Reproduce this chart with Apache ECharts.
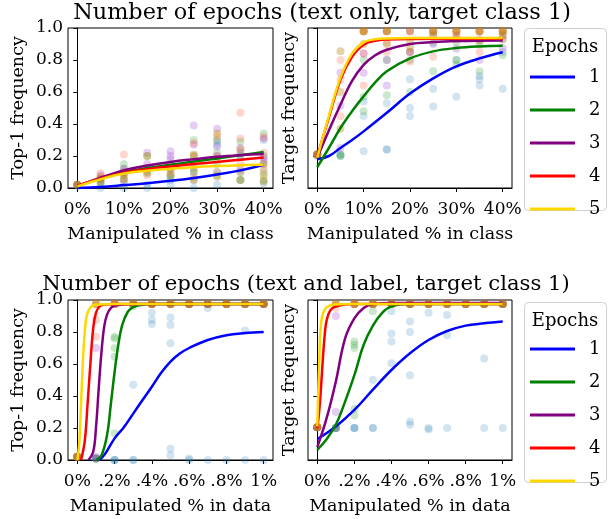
<!DOCTYPE html>
<html>
<head>
<meta charset="utf-8">
<script src="https://cdn.jsdelivr.net/npm/echarts@6/dist/echarts.min.js"></script>
<style>html,body{margin:0;padding:0;background:#fff}#c{width:608px;height:519px}</style>
</head>
<body>
<div id="c"></div>
<script>
// ---------- data ----------
const epochNames = ['1','2','3','4','5'];
const xClass = [0,5,10,15,20,25,30,35,40];
const xData = [0,0.1,0.2,0.3,0.4,0.5,0.6,0.7,0.8,0.9,1.0];
const xClassTicks = [0,10,20,30,40];
const xDataTicks = [0,0.2,0.4,0.6,0.8,1.0];
const xDataTickLabels = ['0%','.2%','.4%','.6%','.8%','1%'];

// top-left: Top-1 frequency, text only (dots per x in xClass)
const tlDots1 = [[0.02,0.01],[0.0,0.02],[0.0,0.03,0.05],[0.0,0.02],[0.02,0.05,0.07],[0.0,0.05,0.1],[0.02,0.1,0.27,0.29],[0.05,0.1,0.2],[0.03,0.15,0.3]];
const tlDots2 = [[0.02],[0.03,0.06],[0.15,0.12,0.08],[0.09,0.12,0.2],[0.12,0.15,0.08],[0.3,0.2,0.1],[0.22,0.3,0.15,0.08],[0.29,0.2,0.05],[0.34,0.2,0.05,0.1]];
const tlDots3 = [[0.02],[0.05,0.08],[0.12,0.1],[0.22,0.15],[0.23,0.2,0.18],[0.39,0.27,0.15],[0.37,0.26,0.2],[0.25,0.12,0.22],[0.31,0.19,0.17]];
const tlDots4 = [[0.02],[0.09,0.07],[0.21,0.1,0.05],[0.12,0.08],[0.14,0.1],[0.28,0.2,0.07],[0.32,0.2,0.1],[0.47,0.31,0.15],[0.32,0.22,0.12]];
const tlDots5 = [[0.02,0.02],[0.04,0.06],[0.09,0.06],[0.2,0.1],[0.12,0.08],[0.21,0.12,0.05],[0.34,0.18,0.07],[0.24,0.1,0.05],[0.15,0.08,0.04]];
const tlFit1 = [[0,0.0],[5,0.007],[10,0.018],[15,0.03],[20,0.045],[25,0.063],[30,0.085],[35,0.11],[40,0.145]];
const tlFit2 = [[0,0.01],[5,0.06],[10,0.1],[15,0.125],[20,0.145],[25,0.165],[30,0.185],[35,0.205],[40,0.225]];
const tlFit3 = [[0,0.01],[5,0.065],[10,0.11],[15,0.14],[20,0.163],[25,0.18],[30,0.195],[35,0.205],[40,0.212]];
const tlFit4 = [[0,0.015],[5,0.06],[10,0.095],[15,0.118],[20,0.135],[25,0.15],[30,0.163],[35,0.177],[40,0.19]];
const tlFit5 = [[0,0.01],[5,0.055],[10,0.09],[15,0.108],[20,0.12],[25,0.13],[30,0.137],[35,0.142],[40,0.146]];

// top-right: Target frequency, text only
const trDots1 = [[0.21,0.2],[0.2,0.21],[0.54,0.45,0.23],[0.53,0.24,0.24],[0.68,0.5,0.45],[0.62,0.51],[0.57,0.8],[0.7,0.68,0.64],[0.62,0.85]];
const trDots2 = [[0.21,0.21],[0.2,0.21],[0.8,0.57,0.48],[0.58,0.8],[0.6,0.8,0.85],[0.91,0.73],[0.8,0.77,0.91],[0.73,0.9],[0.83,0.93]];
const trDots3 = [[0.21,0.21],[0.72,0.514,0.25],[0.84,0.72],[0.8,0.64],[0.98,0.85],[0.9,0.96],[0.87,0.95],[0.8,0.93],[0.875,0.95]];
const trDots4 = [[0.21,0.21],[0.8,0.677,0.448],[0.98,0.98,0.64,0.84],[0.98,0.98,0.91,0.85],[0.98,0.85,0.79],[0.98,0.98,0.82],[0.98,0.98,0.95],[0.98,0.98,0.85],[0.98,0.98,0.93]];
const trDots5 = [[0.21,0.21],[0.854,0.6,0.37],[0.98,0.98,0.9],[0.98,0.98,0.9],[0.92,0.98,0.88],[0.98,0.98,0.95],[0.98,0.98,0.93],[0.98,0.98,0.92],[0.98,0.98,0.96]];
const trFit1 = [[0,0.18],[2.5,0.2],[5,0.25],[7.5,0.3],[10,0.354],[15,0.47],[20,0.59],[25,0.685],[30,0.76],[35,0.81],[40,0.848]];
const trFit2 = [[0,0.13],[2.5,0.25],[5,0.375],[7.5,0.48],[10,0.573],[12.5,0.66],[15,0.73],[20,0.81],[25,0.854],[30,0.875],[35,0.885],[40,0.889]];
const trFit3 = [[0,0.19],[2.5,0.36],[5,0.52],[7.5,0.67],[10,0.77],[12.5,0.83],[15,0.864],[20,0.9],[25,0.912],[30,0.918],[40,0.922]];
const trFit4 = [[0,0.2],[2.5,0.44],[5,0.677],[7.5,0.82],[10,0.896],[12.5,0.92],[15,0.928],[20,0.932],[40,0.933]];
const trFit5 = [[0,0.19],[2.5,0.45],[5,0.69],[7.5,0.84],[10,0.91],[12.5,0.93],[15,0.935],[20,0.937],[40,0.937]];

// bottom-left: Top-1 frequency, text and label (dots per x in xData)
const blDots1 = [[0.02],[0.01,0.01],[0.0,0.0,0.0],[0.47,0.0,0.0],[0.92,0.875,0.85,0.975],[0.89,0.844,0.73,0.07,0.03],[0.01,0.0,0.975],[0.95,0.0,0.975],[0.0,0.975],[0.81,0.0,0.975],[0.0,0.975]];
const blDots2 = [[0.02,0.02],[0.01,0.01],[0.77,0.76,0.70,0.646,0.167],[0.96,0.975,0.975],[0.975,0.975],[0.975,0.975],[0.975,0.975],[0.975,0.975],[0.975,0.975],[0.975,0.975],[0.975,0.975]];
const blDots3 = [[0.02,0.02],[0.70,0.02,0.01],[0.975,0.975],[0.975,0.975],[0.975,0.975],[0.975,0.975],[0.975,0.975],[0.975,0.975],[0.975,0.975],[0.975,0.975],[0.975,0.975]];
const blDots4 = [[0.02,0.02],[0.875,0.77,0.975],[0.975,0.975],[0.975,0.975],[0.975,0.975],[0.975,0.975],[0.975,0.975],[0.975,0.975],[0.975,0.975],[0.975,0.975],[0.975,0.975]];
const blDots5 = [[0.02,0.02],[0.975,0.975],[0.975,0.975],[0.975,0.975],[0.975,0.975],[0.975,0.975],[0.975,0.975],[0.975,0.975],[0.975,0.975],[0.975,0.975],[0.975,0.975]];
const blFit1 = [[0.12,0],[0.15,0.04],[0.2,0.135],[0.25,0.205],[0.3,0.29],[0.35,0.375],[0.4,0.458],[0.45,0.545],[0.5,0.615],[0.55,0.665],[0.6,0.70],[0.7,0.75],[0.8,0.78],[0.9,0.793],[1,0.80]];
const blFit2 = [[0.1,0],[0.13,0.03],[0.16,0.16],[0.18,0.35],[0.2,0.55],[0.22,0.72],[0.24,0.84],[0.27,0.925],[0.3,0.955],[0.35,0.97],[0.4,0.975],[1,0.975]];
const blFit3 = [[0.06,0],[0.085,0.05],[0.1,0.2],[0.115,0.45],[0.13,0.68],[0.145,0.84],[0.16,0.91],[0.18,0.95],[0.2,0.965],[0.3,0.975],[1,0.975]];
const blFit4 = [[0.02,0],[0.04,0.12],[0.055,0.35],[0.07,0.6],[0.085,0.82],[0.1,0.92],[0.12,0.96],[0.15,0.972],[0.2,0.975],[1,0.975]];
const blFit5 = [[0,0],[0.01,0.1],[0.02,0.35],[0.03,0.62],[0.04,0.8],[0.05,0.9],[0.07,0.955],[0.1,0.97],[0.2,0.975],[1,0.975]];

// bottom-right: Target frequency, text and label
const brDots1 = [[0.205],[0.2,0.2],[0.2,0.2,0.2],[0.5,0.2,0.2],[0.93,0.79,0.74,0.604],[0.865,0.8,0.53,0.24,0.22],[0.92,0.2,0.19],[0.906,0.78,0.2],[0.975],[0.635,0.2,0.975],[0.2,0.975]];
const brDots2 = [[0.205,0.205],[0.2,0.2],[0.74,0.72,0.70,0.32,0.28],[0.93,0.975,0.975],[0.975,0.975],[0.975,0.975],[0.975,0.975],[0.975,0.975],[0.975,0.975],[0.975,0.975],[0.975,0.975]];
const brDots3 = [[0.205,0.205],[0.9,0.3,0.2],[0.975,0.975],[0.975,0.975],[0.975,0.975],[0.975,0.975],[0.975,0.975],[0.975,0.975],[0.975,0.975],[0.975,0.975],[0.975,0.975]];
const brDots4 = [[0.205,0.205],[0.95,0.975],[0.975,0.975],[0.975,0.975],[0.975,0.975],[0.975,0.975],[0.975,0.975],[0.975,0.975],[0.975,0.975],[0.975,0.975],[0.975,0.975]];
const brDots5 = [[0.205,0.205],[0.975,0.975],[0.975,0.975],[0.975,0.975],[0.975,0.975],[0.975,0.975],[0.975,0.975],[0.975,0.975],[0.975,0.975],[0.975,0.975],[0.975,0.975]];
const brFit1 = [[0,0.131],[0.1,0.21],[0.2,0.313],[0.3,0.44],[0.4,0.5625],[0.5,0.667],[0.6,0.75],[0.7,0.806],[0.8,0.84],[0.9,0.854],[1,0.865]];
const brFit2 = [[0,0.063],[0.05,0.13],[0.1,0.22],[0.15,0.365],[0.2,0.53],[0.25,0.72],[0.3,0.84],[0.35,0.92],[0.4,0.96],[0.5,0.975],[1,0.975]];
const brFit3 = [[0,0.08],[0.05,0.26],[0.1,0.49],[0.15,0.76],[0.2,0.885],[0.25,0.95],[0.3,0.975],[0.4,0.982],[1,0.982]];
const brFit4 = [[0,0.2],[0.01,0.3],[0.02,0.45],[0.03,0.63],[0.04,0.78],[0.05,0.87],[0.07,0.935],[0.1,0.96],[0.15,0.972],[0.2,0.975],[1,0.975]];
const brFit5 = [[0,0.21],[0.01,0.6],[0.02,0.85],[0.035,0.93],[0.06,0.962],[0.1,0.972],[0.2,0.975],[1,0.975]];

// ---------- styling ----------
const FONT = 'DejaVu Serif';
const lineColors = ['#0000ff','#008000','#800080','#ff0000','#ffd700'];
const dotColors = ['rgba(31,119,180,0.25)','rgba(44,160,44,0.3)','rgba(153,51,204,0.3)','rgba(255,85,51,0.3)','rgba(184,134,11,0.45)'];

const grids = [
  {left:68, top:28, width:205, height:160},
  {left:308, top:28, width:204, height:160},
  {left:68, top:300, width:205, height:160},
  {left:308, top:300, width:204, height:160}
];

function xAxisFor(i){
  const cls = i < 2;
  return {
    type:'value', gridIndex:i,
    min: cls ? -2 : -0.05, max: cls ? 42 : 1.05,
    name: cls ? 'Manipulated % in class' : 'Manipulated % in data',
    nameLocation:'middle', nameGap:37,
    nameTextStyle:{fontFamily:FONT, fontSize:17.5, color:'#000'},
    axisLine:{show:true, onZero:false, lineStyle:{color:'#000', width:1}},
    splitLine:{show:false},
    axisTick:{show:true, length:4, lineStyle:{color:'#000'}, customValues: cls ? xClassTicks : xDataTicks},
    axisLabel:{fontFamily:FONT, fontSize:17, color:'#000', margin:13,
      customValues: cls ? xClassTicks : xDataTicks,
      formatter: v => cls ? (Math.round(v) + '%') : xDataTickLabels[xDataTicks.findIndex(t => Math.abs(t - v) < 1e-6)]}
  };
}
function yAxisFor(i){
  const left = (i % 2) === 0;
  return {
    type:'value', gridIndex:i, min:0, max:1, interval:0.2,
    name: left ? 'Top-1 frequency' : 'Target frequency',
    nameLocation:'middle', nameGap: left ? 41 : 10,
    nameTextStyle:{fontFamily:FONT, fontSize:17.5, color:'#000'},
    axisLine:{show:true, lineStyle:{color:'#000', width:1}},
    splitLine:{show:false},
    axisTick:{show:true, length:4, lineStyle:{color:'#000'}},
    axisLabel:{show:left, fontFamily:FONT, fontSize:17, color:'#000', margin:5, formatter: v => v.toFixed(1)}
  };
}

const dotSets = [
  [tlDots1,tlDots2,tlDots3,tlDots4,tlDots5],
  [trDots1,trDots2,trDots3,trDots4,trDots5],
  [blDots1,blDots2,blDots3,blDots4,blDots5],
  [brDots1,brDots2,brDots3,brDots4,brDots5]
];
const fitSets = [
  [tlFit1,tlFit2,tlFit3,tlFit4,tlFit5],
  [trFit1,trFit2,trFit3,trFit4,trFit5],
  [blFit1,blFit2,blFit3,blFit4,blFit5],
  [brFit1,brFit2,brFit3,brFit4,brFit5]
];

const series = [];
for (let g = 0; g < 4; g++) {
  const xs = g < 2 ? xClass : xData;
  for (let e = 0; e < 5; e++) {
    const pts = [];
    dotSets[g][e].forEach((ys, k) => ys.forEach(y => pts.push([xs[k], y])));
    series.push({type:'scatter', name:'dots'+e, xAxisIndex:g, yAxisIndex:g, data:pts,
      symbolSize:8, itemStyle:{color:dotColors[e]}, silent:true, z:2, clip:false});
  }
  for (let e = 0; e < 5; e++) {
    series.push({type:'line', name:epochNames[e], xAxisIndex:g, yAxisIndex:g, data:fitSets[g][e],
      smooth:0.4, symbol:'none', lineStyle:{color:lineColors[e], width:2.5}, itemStyle:{color:lineColors[e]},
      z:3+e, clip:true});
  }
}

function legendAt(top){
  return {
    data: epochNames.map(n => ({name:n, icon:'rect'})), orient:'vertical', left:530, top:top,
    itemWidth:45, itemHeight:3, itemGap:15, padding:0,
    textStyle:{fontFamily:FONT, fontSize:18, lineHeight:14, color:'#000', padding:[0,0,0,9]},
    selectedMode:false
  };
}

function boxWithTitle(y, h){
  return [
    {type:'rect', shape:{x:524.5, y:y+0.5, width:82, height:h, r:4}, style:{fill:'#fff', stroke:'#d0d0d0', lineWidth:1}, z:0},
    {type:'text', x:565, y:y+19, style:{text:'Epochs', fontFamily:FONT, fontSize:18, fill:'#000', textAlign:'center', textVerticalAlign:'middle'}, z:1}
  ];
}

const option = {
  animation:false,
  backgroundColor:'#fff',
  grid: grids.map(g => Object.assign({show:true, borderColor:'#000', borderWidth:1, backgroundColor:'transparent'}, g)),
  xAxis: [0,1,2,3].map(xAxisFor),
  yAxis: [0,1,2,3].map(yAxisFor),
  legend: [legendAt(68), legendAt(340)],
  graphic: [
    {type:'text', x:322, y:13, style:{text:'Number of epochs (text only, target class 1)', fontFamily:FONT, fontSize:22.4, fill:'#000', textAlign:'center', textVerticalAlign:'middle'}},
    {type:'text', x:306, y:284, style:{text:'Number of epochs (text and label, target class 1)', fontFamily:FONT, fontSize:21.2, fill:'#000', textAlign:'center', textVerticalAlign:'middle'}},
    ...boxWithTitle(28, 182),
    ...boxWithTitle(302, 180)
  ],
  series: series
};

const chart = echarts.init(document.getElementById('c'), null, {renderer:'canvas'});
chart.setOption(option);
</script>
</body>
</html>
